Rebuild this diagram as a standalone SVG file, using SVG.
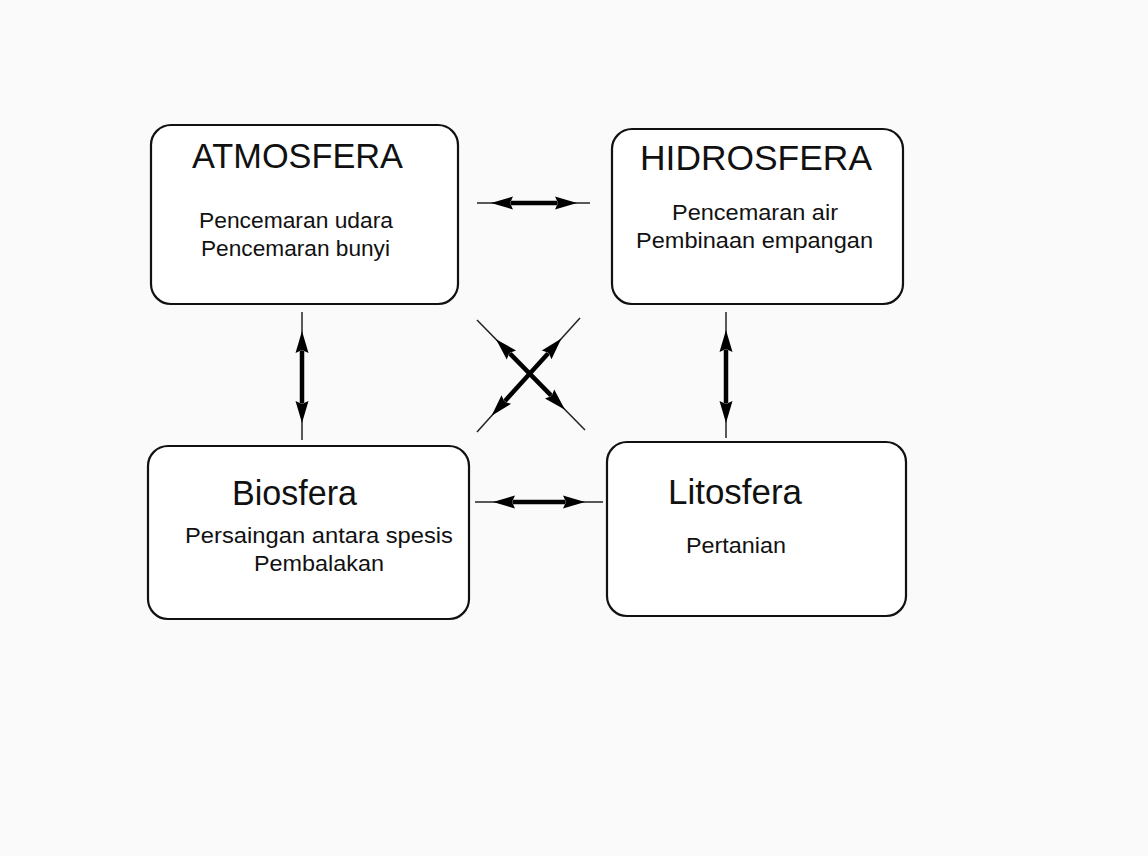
<svg xmlns="http://www.w3.org/2000/svg" width="1148" height="856" viewBox="0 0 1148 856">
<style>
.box{fill:#fff;stroke:#111;stroke-width:2.2}
.t{font-family:"Liberation Sans",Arial,sans-serif;fill:#111}
.title{font-size:35px}
.sub{font-size:22px}
.thin{stroke:#222;stroke-width:1.5;fill:none}
.thick{stroke:#000;stroke-width:4.5;fill:none;marker-start:url(#head);marker-end:url(#head)}
</style>
<defs>
<marker id="head" markerUnits="userSpaceOnUse" markerWidth="30" markerHeight="20" refX="0" refY="0" orient="auto-start-reverse" overflow="visible" viewBox="-5 -10 30 20">
<path d="M-2,-6.5 L20,0 L-2,6.5 L1,0 Z" fill="#000"/>
</marker>
</defs>
<rect width="1148" height="856" fill="#fafafa"/>
<g id="atmosfera">
<rect class="box" x="151" y="125" width="307" height="179" rx="20"/>
<text class="t title" x="192" y="168" textLength="211" lengthAdjust="spacingAndGlyphs">ATMOSFERA</text>
<text class="t sub" x="199" y="228" textLength="194" lengthAdjust="spacingAndGlyphs">Pencemaran udara</text>
<text class="t sub" x="201" y="256" textLength="189" lengthAdjust="spacingAndGlyphs">Pencemaran bunyi</text>
</g>
<g id="hidrosfera">
<rect class="box" x="612" y="129" width="291" height="175" rx="20"/>
<text class="t title" x="640" y="170" textLength="232" lengthAdjust="spacingAndGlyphs">HIDROSFERA</text>
<text class="t sub" x="672" y="220" textLength="166" lengthAdjust="spacingAndGlyphs">Pencemaran air</text>
<text class="t sub" x="636" y="248" textLength="237" lengthAdjust="spacingAndGlyphs">Pembinaan empangan</text>
</g>
<g id="biosfera">
<rect class="box" x="148" y="446" width="321" height="173" rx="20"/>
<text class="t title" x="232" y="505" textLength="125" lengthAdjust="spacingAndGlyphs">Biosfera</text>
<text class="t sub" x="185" y="543" textLength="268" lengthAdjust="spacingAndGlyphs">Persaingan antara spesis</text>
<text class="t sub" x="254" y="571" textLength="130" lengthAdjust="spacingAndGlyphs">Pembalakan</text>
</g>
<g id="litosfera">
<rect class="box" x="607" y="442" width="299" height="174" rx="20"/>
<text class="t title" x="668" y="504" textLength="134" lengthAdjust="spacingAndGlyphs">Litosfera</text>
<text class="t sub" x="686" y="553" textLength="100" lengthAdjust="spacingAndGlyphs">Pertanian</text>
</g>
<g id="connectors">
<g id="c-atmo-hidro">
<line class="thin" x1="477" y1="203" x2="590" y2="203"/>
<line class="thick" x1="511" y1="203" x2="557" y2="203"/>
</g>
<g id="c-bio-lito">
<line class="thin" x1="475" y1="502" x2="603" y2="502"/>
<line class="thick" x1="513" y1="502" x2="565" y2="502"/>
</g>
<g id="c-atmo-bio">
<line class="thin" x1="302" y1="312" x2="302" y2="440"/>
<line class="thick" x1="302" y1="351" x2="302" y2="403"/>
</g>
<g id="c-hidro-lito">
<line class="thin" x1="726" y1="312" x2="726" y2="438"/>
<line class="thick" x1="726" y1="350" x2="726" y2="403"/>
</g>
<g id="c-atmo-lito">
<line class="thin" x1="477" y1="320" x2="585" y2="430"/>
<line class="thick" x1="510" y1="353.6" x2="551" y2="395.4"/>
</g>
<g id="c-hidro-bio">
<line class="thin" x1="580" y1="318" x2="477" y2="432"/>
<line class="thick" x1="548" y1="353.4" x2="505" y2="401"/>
</g>
</g>
</svg>
